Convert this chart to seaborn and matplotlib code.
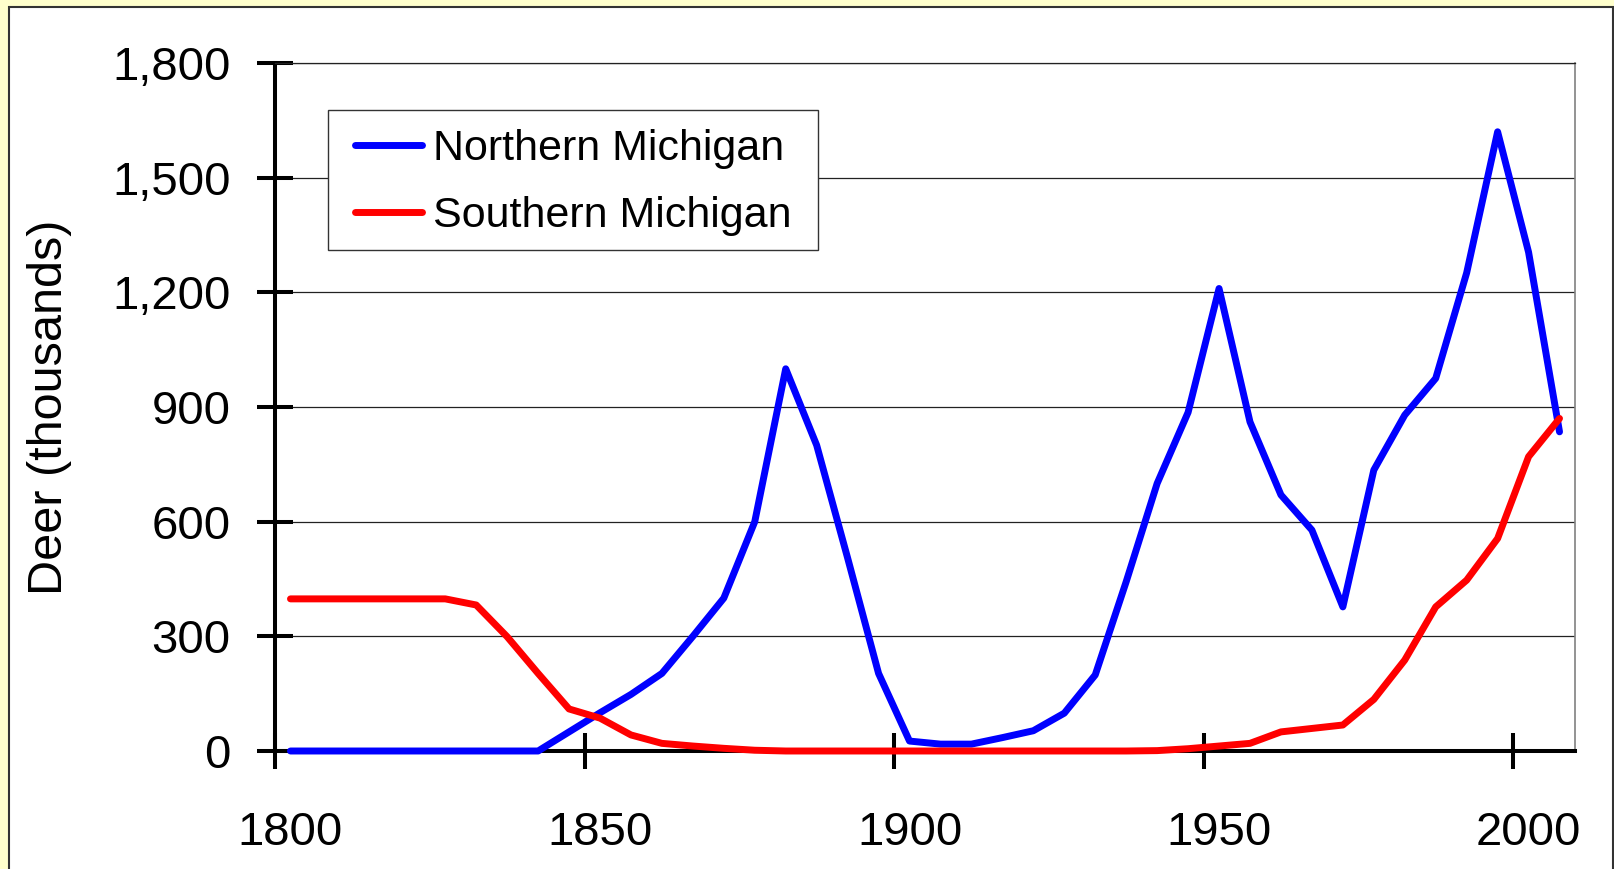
import matplotlib.pyplot as plt
import matplotlib.patches as mpatches
from matplotlib.ticker import StrMethodFormatter
import pandas as pd
import seaborn as sns

# deer population estimates, thousands, one value per 5-year category
years = list(range(1800, 2006, 5))
northern = [0, 0, 0, 0, 0, 0, 0, 0, 0, 50, 100, 148, 203, 300, 400, 600,
            1000, 800, 505, 203, 26, 18, 18, 35, 53, 99, 199, 443, 700, 886,
            1210, 861, 670, 578, 377, 735, 879, 975, 1251, 1620, 1305, 835]
southern = [398, 398, 398, 398, 398, 398, 382, 299, 203, 110, 86, 42, 20,
            13, 7, 2, 0, 0, 0, 0, 0, 0, 0, 0, 0, 0, 0, 0, 1, 6, 13, 20, 50,
            59, 68, 135, 238, 377, 447, 556, 770, 870]
series_names = ["Northern Michigan", "Southern Michigan"]
x_tick_years = [1800, 1850, 1900, 1950, 2000]
y_ticks = [0, 300, 600, 900, 1200, 1500, 1800]

df = pd.concat([
    pd.DataFrame({"year": years, "deer": northern, "region": series_names[0]}),
    pd.DataFrame({"year": years, "deer": southern, "region": series_names[1]}),
])

sns.set_theme(style="white")
plt.rcParams["font.family"] = ["Liberation Sans", "DejaVu Sans"]
plt.rcParams["text.color"] = "black"

fig = plt.figure(figsize=(16.15, 8.69), dpi=100, facecolor="#FFFFCC")
# white chart area with a dark border, as in the spreadsheet export
fig.patches.append(mpatches.Rectangle(
    (9 / 1615, -0.05), (1613 - 9) / 1615, 1.05 - 7 / 869,
    transform=fig.transFigure, facecolor="white", edgecolor="#333333",
    linewidth=1.5, zorder=-1))

ax = fig.add_axes([275 / 1615, (869 - 751) / 869, 1300 / 1615, 688 / 869])
ax.set_facecolor("white")

sns.lineplot(data=df, x="year", y="deer", hue="region",
             palette={series_names[0]: "#0000FF", series_names[1]: "#FF0000"},
             linewidth=5.0, errorbar=None, ax=ax)
for line in ax.lines:
    line.set_solid_capstyle("round")
    line.set_solid_joinstyle("round")
    line.set_clip_on(False)
    line.set_zorder(3)

# category axis: ticks sit between categories, labels under category centres
step = years[1] - years[0]
ax.set_xlim(years[0] - step / 2, years[-1] + step / 2)
ax.set_xticks([y - step / 2 for y in x_tick_years])
ax.set_xticklabels([])
ax.set_xticks(x_tick_years, minor=True)
ax.set_xticklabels([str(y) for y in x_tick_years], minor=True)

ax.set_ylim(0, 1800)
ax.set_yticks(y_ticks)
ax.yaxis.set_major_formatter(StrMethodFormatter("{x:,.0f}"))

ax.tick_params(axis="both", which="major", direction="inout", length=26,
               width=2.9, color="black", labelsize=34, labelcolor="black",
               bottom=True, left=True)
ax.tick_params(axis="y", which="major", pad=19)
ax.tick_params(axis="x", which="minor", length=0, pad=43, labelsize=34,
               labelcolor="black", bottom=True)

ax.yaxis.grid(True, color="#222222", linewidth=0.9)
ax.xaxis.grid(False)
ax.set_axisbelow(True)

for side in ["left", "bottom"]:
    ax.spines[side].set_color("black")
    ax.spines[side].set_linewidth(2.9)
ax.spines["top"].set_color("#222222")
ax.spines["top"].set_linewidth(0.9)
ax.spines["right"].set_color("#808080")
ax.spines["right"].set_linewidth(1.2)

ax.set_xlabel("")
ax.set_ylabel("Deer (thousands)", fontsize=35, color="black")
ax.yaxis.set_label_coords(-0.156, 0.5)

# legend box drawn separately so its padding can match the original
ax.add_patch(mpatches.Rectangle(
    (0.0408, 0.7282), 0.4177 - 0.0408, 0.9317 - 0.7282,
    transform=ax.transAxes, facecolor="white", edgecolor="#333333",
    linewidth=1.0, zorder=4, clip_on=False))

handles, labels = ax.get_legend_handles_labels()
leg = ax.legend(handles, labels, loc="upper left",
                bbox_to_anchor=(0.0615, 0.9035), borderaxespad=0,
                borderpad=0, fontsize=31, frameon=False, labelcolor="black",
                handlelength=1.55, handletextpad=0.26, labelspacing=0.61)
leg.set_zorder(5)
for hdl in leg.get_lines():
    hdl.set_linewidth(5.0)
    hdl.set_solid_capstyle("round")

fig.savefig("out.png", dpi=100, facecolor=fig.get_facecolor())
plt.close(fig)
